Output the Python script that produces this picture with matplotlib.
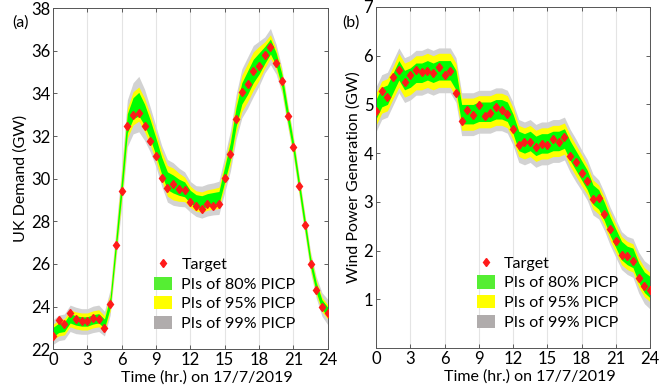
import numpy as np
import matplotlib
matplotlib.use("Agg")
import matplotlib.pyplot as plt
from matplotlib.patches import Patch
from matplotlib.lines import Line2D

plt.rcParams["font.family"] = ["Lato", "DejaVu Sans"]

# half-hourly time stamps on 17/7/2019
hours = np.arange(0, 24.5, 0.5)

# (a) UK demand, GW
demand_target = [22.6, 23.35, 23.2, 23.7, 23.4, 23.3, 23.3, 23.45, 23.4, 23.0,
                 24.1, 26.9, 29.4, 32.45, 33.0, 33.1, 32.45, 31.75, 31.05, 30.05,
                 29.55, 29.74, 29.5, 29.45, 28.9, 28.72, 28.56, 28.8, 28.7, 28.83,
                 30.05, 31.15, 32.8, 34.05, 34.45, 35.05, 35.3, 35.8, 36.2, 35.45,
                 34.6, 32.95, 31.5, 29.65, 27.85, 26.0, 24.8, 24.0, 23.7]
demand_pred = [22.8, 23.0, 23.05, 23.45, 23.35, 23.3, 23.3, 23.4, 23.45, 23.2,
               24.2, 26.9, 29.6, 32.6, 33.3, 33.5, 33.0, 32.3, 31.5, 30.6,
               29.9, 29.75, 29.6, 29.5, 29.15, 28.95, 28.9, 29.0, 29.05, 29.1,
               30.2, 31.3, 32.9, 34.0, 34.5, 35.05, 35.4, 35.8, 36.2, 35.6,
               34.6, 33.0, 31.5, 29.7, 27.9, 26.1, 24.9, 24.1, 23.75]
demand_w80 = [0.22, 0.22, 0.22, 0.22, 0.22, 0.22, 0.22, 0.22, 0.22, 0.22,
              0.25, 0.3, 0.4, 0.45, 0.5, 0.55, 0.5, 0.45, 0.4, 0.4,
              0.42, 0.42, 0.38, 0.35, 0.3, 0.3, 0.3, 0.3, 0.3, 0.3,
              0.35, 0.4, 0.45, 0.5, 0.55, 0.55, 0.5, 0.4, 0.35, 0.3,
              0.3, 0.3, 0.25, 0.25, 0.25, 0.22, 0.22, 0.22, 0.22]
demand_w95 = [0.36, 0.38, 0.38, 0.4, 0.4, 0.4, 0.4, 0.4, 0.4, 0.38,
              0.4, 0.48, 0.62, 0.7, 0.78, 0.8, 0.78, 0.72, 0.66, 0.68,
              0.72, 0.75, 0.66, 0.58, 0.5, 0.48, 0.48, 0.48, 0.48, 0.5,
              0.55, 0.65, 0.75, 0.85, 0.9, 0.9, 0.8, 0.62, 0.55, 0.48,
              0.45, 0.42, 0.38, 0.36, 0.36, 0.34, 0.34, 0.34, 0.34]
demand_w99 = [0.58, 0.6, 0.6, 0.62, 0.62, 0.6, 0.6, 0.62, 0.62, 0.58,
              0.6, 0.72, 0.95, 1.1, 1.2, 1.3, 1.2, 1.05, 0.95, 0.95,
              1.0, 1.0, 0.9, 0.82, 0.72, 0.72, 0.75, 0.75, 0.75, 0.78,
              0.85, 0.95, 1.05, 1.15, 1.2, 1.2, 1.05, 0.85, 0.85, 0.7,
              0.6, 0.55, 0.5, 0.48, 0.48, 0.48, 0.5, 0.55, 0.6]

# (b) wind power generation, GW
wind_target = [4.86, 5.28, 5.15, 5.56, 5.71, 5.47, 5.6, 5.71, 5.67, 5.68,
               5.64, 5.77, 5.61, 5.69, 5.24, 4.67, 4.89, 4.78, 4.98, 4.76,
               4.83, 4.94, 4.89, 4.81, 4.49, 4.16, 4.22, 4.23, 4.12, 4.19,
               4.16, 4.29, 4.22, 4.33, 3.95, 3.82, 3.59, 3.42, 3.05, 3.07,
               2.75, 2.45, 2.2, 1.9, 1.89, 1.78, 1.44, 1.27, 1.19]
wind_pred = [4.9, 5.15, 5.2, 5.45, 5.7, 5.5, 5.55, 5.65, 5.65, 5.7,
             5.65, 5.7, 5.7, 5.7, 5.5, 4.8, 4.8, 4.8, 4.85, 4.85,
             4.85, 4.9, 4.9, 4.85, 4.6, 4.25, 4.2, 4.25, 4.15, 4.2,
             4.2, 4.25, 4.25, 4.3, 4.05, 3.85, 3.65, 3.45, 3.15, 3.05,
             2.8, 2.5, 2.25, 2.0, 1.9, 1.85, 1.55, 1.35, 1.25]
wind_w80 = [0.2, 0.2, 0.2, 0.2, 0.2, 0.2, 0.2, 0.2, 0.2, 0.2,
            0.2, 0.2, 0.2, 0.2, 0.2, 0.2, 0.2, 0.2, 0.2, 0.2,
            0.2, 0.2, 0.2, 0.2, 0.2, 0.2, 0.2, 0.2, 0.2, 0.2,
            0.2, 0.2, 0.2, 0.2, 0.2, 0.2, 0.2, 0.2, 0.2, 0.2,
            0.19, 0.19, 0.19, 0.19, 0.19, 0.2, 0.2, 0.21, 0.22]
wind_w95 = [0.33, 0.33, 0.33, 0.33, 0.35, 0.35, 0.35, 0.35, 0.35, 0.35,
            0.35, 0.35, 0.35, 0.35, 0.35, 0.33, 0.33, 0.33, 0.33, 0.33,
            0.33, 0.33, 0.33, 0.33, 0.33, 0.32, 0.32, 0.32, 0.32, 0.32,
            0.32, 0.32, 0.32, 0.32, 0.32, 0.32, 0.32, 0.3, 0.3, 0.3,
            0.29, 0.29, 0.29, 0.29, 0.29, 0.29, 0.3, 0.3, 0.3]
wind_w99 = [0.46, 0.46, 0.46, 0.46, 0.46, 0.46, 0.46, 0.46, 0.46, 0.46,
            0.46, 0.46, 0.46, 0.46, 0.46, 0.44, 0.44, 0.44, 0.44, 0.44,
            0.44, 0.44, 0.44, 0.44, 0.44, 0.44, 0.44, 0.44, 0.44, 0.44,
            0.44, 0.44, 0.44, 0.44, 0.44, 0.44, 0.42, 0.42, 0.42, 0.4,
            0.39, 0.39, 0.39, 0.39, 0.39, 0.4, 0.42, 0.44, 0.45]

xticks = [0, 3, 6, 9, 12, 15, 18, 21, 24]
demand_yticks = [22, 24, 26, 28, 30, 32, 34, 36, 38]
wind_yticks = [1, 2, 3, 4, 5, 6, 7]

GREEN = "#00ff00"
YELLOW = "#ffff00"
GRAY = "#d2d2d2"
RED = "#ff1a1a"


def draw_panel(ax, target, pred, w80, w95, w99, ylim, yticks, ylabel):
    pred = np.asarray(pred)
    for w, c in [(w99, GRAY), (w95, YELLOW), (w80, GREEN)]:
        w = np.asarray(w)
        ax.fill_between(hours, pred - w, pred + w, color=c, lw=0, zorder=2)
    ax.plot(hours, target, ls="none", marker="d", ms=4.5, color=RED,
            mec=RED, zorder=3)

    ax.set_xlim(0, 24)
    ax.set_ylim(*ylim)
    ax.set_xticks(xticks)
    ax.set_yticks(yticks)
    ax.grid(axis="x", color="#e4e4e4", lw=0.8, zorder=0)
    ax.tick_params(direction="in", top=True, right=True, length=3,
                   labelsize=12, width=0.6, color="#444444", pad=2)
    for s in ax.spines.values():
        s.set_color("#555555")
        s.set_linewidth(0.7)
    ax.set_xlabel("Time (hr.) on 17/7/2019", fontsize=11.5, labelpad=0)
    ax.xaxis.set_label_coords(0.56, -0.062)
    ax.set_ylabel(ylabel, fontsize=11.5, labelpad=2)

    handles = [
        Line2D([], [], ls="none", marker="d", ms=4.5, color=RED),
        Patch(facecolor="#55ee33"),
        Patch(facecolor=YELLOW),
        Patch(facecolor="#b0acac"),
    ]
    labels = ["Target", "PIs of 80% PICP", "PIs of 95% PICP", "PIs of 99% PICP"]
    ax.legend(handles, labels, loc="lower left", bbox_to_anchor=(0.345, 0.035),
              frameon=False, fontsize=11.5, handlelength=1.1, handleheight=0.9,
              handletextpad=0.6, labelspacing=0.28, borderaxespad=0)


fig = plt.figure(figsize=(6.62, 3.88), dpi=100)
ax_a = fig.add_axes([0.080, 0.100, 0.415, 0.879])
ax_b = fig.add_axes([0.568, 0.103, 0.414, 0.879])

draw_panel(ax_a, demand_target, demand_pred, demand_w80, demand_w95, demand_w99,
           (22, 38), demand_yticks, "UK Demand (GW)")
draw_panel(ax_b, wind_target, wind_pred, wind_w80, wind_w95, wind_w99,
           (0, 7), wind_yticks, "Wind Power Generation (GW)")

fig.text(0.018, 0.93, "(a)", fontsize=11.5)
fig.text(0.517, 0.93, "(b)", fontsize=11.5)

fig.savefig("out.png", dpi=100)
